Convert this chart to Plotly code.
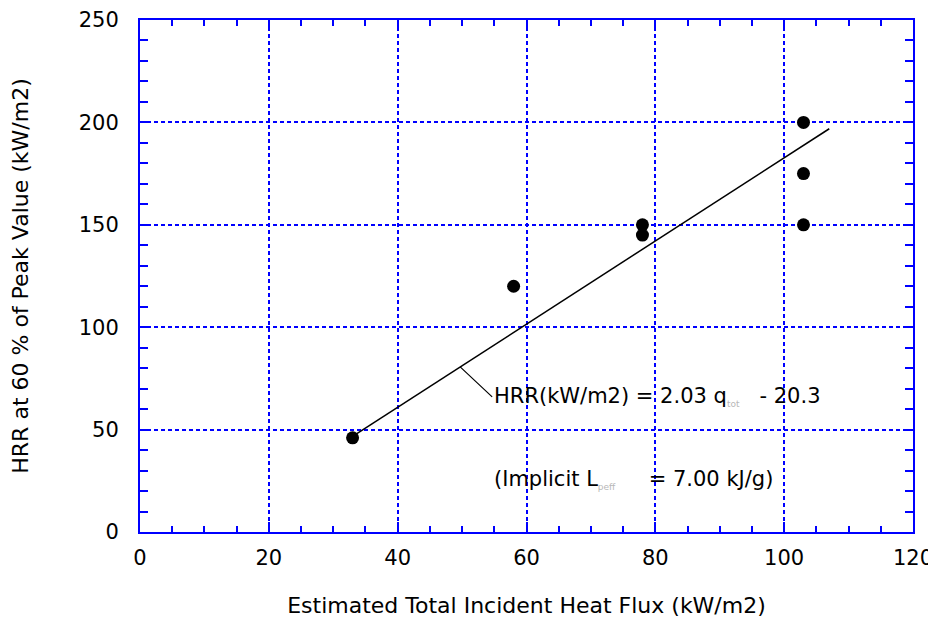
import plotly.graph_objects as go

# measured points
flux = [33, 58, 78, 78, 103, 103, 103]
hrr = [46, 120, 150, 145, 200, 175, 150]

# fitted line HRR = 2.03 q - 20.3
fit_x = [33, 107]
fit_y = [46.7, 196.9]

blue = "#0000ff"
font = "DejaVu Sans, Verdana, sans-serif"
sub = "<sub><span style='color:#b8b8b8;font-size:9px'>%s</span></sub>"

fig = go.Figure()
fig.add_trace(go.Scatter(x=fit_x, y=fit_y, mode="lines",
                         line=dict(color="black", width=1.5), showlegend=False))
fig.add_trace(go.Scatter(x=flux, y=hrr, mode="markers",
                         marker=dict(color="black", size=13), showlegend=False))

fig.add_annotation(x=49.7, y=80.6, xref="x", yref="y",
                   text="HRR(kW/m2) = 2.03 q" + sub % "tot" + "   - 20.3",
                   showarrow=True, arrowhead=0, arrowwidth=1.2, arrowcolor="black",
                   ax=32, ay=30, xanchor="left", yanchor="middle",
                   font=dict(family=font, size=21, color="black"))
fig.add_annotation(x=54.6, y=25.5, xref="x", yref="y",
                   text="(Implicit L" + sub % "peff" + "     = 7.00 kJ/g)",
                   showarrow=False, xanchor="left", yanchor="middle",
                   font=dict(family=font, size=21, color="black"))

axis_common = dict(
    showline=True, linecolor=blue, linewidth=2, mirror="ticks",
    ticks="inside", ticklen=10, tickwidth=1.5, tickcolor=blue,
    showgrid=True, gridcolor=blue, griddash="4px,3px", gridwidth=2,
    zeroline=False, automargin=False,
    tickfont=dict(family=font, size=21, color="black"),
)

fig.update_xaxes(range=[0, 120], dtick=20, tick0=0,
                 minor=dict(ticks="inside", dtick=5, ticklen=6, tickcolor=blue, tickwidth=1.5, showgrid=False),
                 title=dict(text="Estimated Total Incident Heat Flux (kW/m2)", standoff=28,
                            font=dict(family=font, size=22, color="black")),
                 ticklabelstandoff=6, **axis_common)
fig.update_yaxes(range=[0, 250], dtick=50, tick0=0,
                 minor=dict(ticks="inside", dtick=10, ticklen=8, tickcolor=blue, tickwidth=1.5, showgrid=False),
                 title=dict(text="HRR at 60 % of Peak Value (kW/m2)", standoff=48,
                            font=dict(family=font, size=22, color="black")),
                 ticklabelstandoff=15, **axis_common)

# page body adds an 8px offset, so margins are shifted by that much
fig.update_layout(width=928, height=614,
                  margin=dict(l=132, r=23, t=12, b=90),
                  paper_bgcolor="white", plot_bgcolor="white")

fig.write_html("out.html")
